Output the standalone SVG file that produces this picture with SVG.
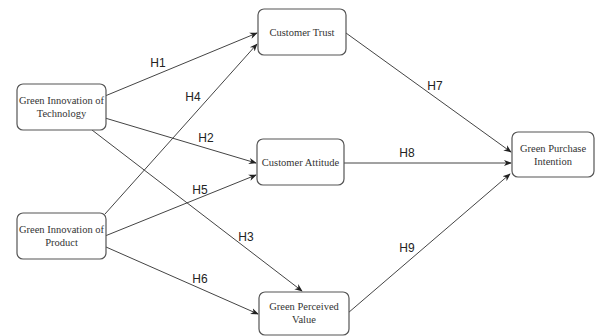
<svg xmlns="http://www.w3.org/2000/svg" width="596" height="336" viewBox="0 0 596 336">
<defs>
<marker id="arr" viewBox="0 0 10 10" refX="9" refY="5" markerWidth="8" markerHeight="8" markerUnits="userSpaceOnUse" orient="auto">
<path d="M0,1 L10,5 L0,9 L3,5 Z" fill="#222"/>
</marker>
<style>
.box{fill:#fff;stroke:#555;stroke-width:1.2}
.nt{font-family:"Liberation Serif","Times New Roman",serif;font-size:10.5px;fill:#333;text-anchor:middle}
.e{stroke:#444;stroke-width:1;fill:none;marker-end:url(#arr)}
.lb{font-family:"Liberation Sans",Arial,sans-serif;font-size:12px;fill:#222;text-anchor:middle}
</style>
</defs>
<rect width="596" height="336" fill="#fff"/>
<g id="connectors">
<line class="e" x1="105" y1="96" x2="257" y2="33"/>
<line class="e" x1="105" y1="214" x2="257" y2="44"/>
<line class="e" x1="105" y1="118" x2="256" y2="163"/>
<line class="e" x1="105" y1="236" x2="256" y2="175"/>
<line class="e" x1="92" y1="130" x2="302" y2="291"/>
<line class="e" x1="106" y1="247" x2="258" y2="314"/>
<line class="e" x1="346" y1="33" x2="511" y2="152"/>
<line class="e" x1="344" y1="163" x2="511" y2="163"/>
<line class="e" x1="348" y1="313" x2="510" y2="174"/>
<text class="lb" x="158" y="67">H1</text>
<text class="lb" x="193" y="101">H4</text>
<text class="lb" x="206" y="142">H2</text>
<text class="lb" x="200" y="194">H5</text>
<text class="lb" x="246" y="241">H3</text>
<text class="lb" x="200" y="283">H6</text>
<text class="lb" x="435" y="90">H7</text>
<text class="lb" x="407" y="157">H8</text>
<text class="lb" x="407" y="252">H9</text>
</g>
<g id="git">
<rect class="box" x="17" y="84" width="89" height="46" rx="6"/>
<text class="nt" x="61.5" y="104">Green Innovation of</text>
<text class="nt" x="61.5" y="117">Technology</text>
</g>
<g id="gip">
<rect class="box" x="17" y="213" width="89" height="46" rx="6"/>
<text class="nt" x="61.5" y="233">Green Innovation of</text>
<text class="nt" x="61.5" y="246">Product</text>
</g>
<g id="ct">
<rect class="box" x="258" y="9" width="88" height="46" rx="6"/>
<text class="nt" x="302" y="36">Customer Trust</text>
</g>
<g id="ca">
<rect class="box" x="257" y="139" width="87" height="46" rx="6"/>
<text class="nt" x="300.5" y="166">Customer Attitude</text>
</g>
<g id="gpv">
<rect class="box" x="259" y="292" width="90" height="43" rx="6"/>
<text class="nt" x="304" y="310">Green Perceived</text>
<text class="nt" x="304" y="323">Value</text>
</g>
<g id="gpi">
<rect class="box" x="512" y="132" width="82" height="45" rx="6"/>
<text class="nt" x="553" y="152">Green Purchase</text>
<text class="nt" x="553" y="165">Intention</text>
</g>
</svg>
